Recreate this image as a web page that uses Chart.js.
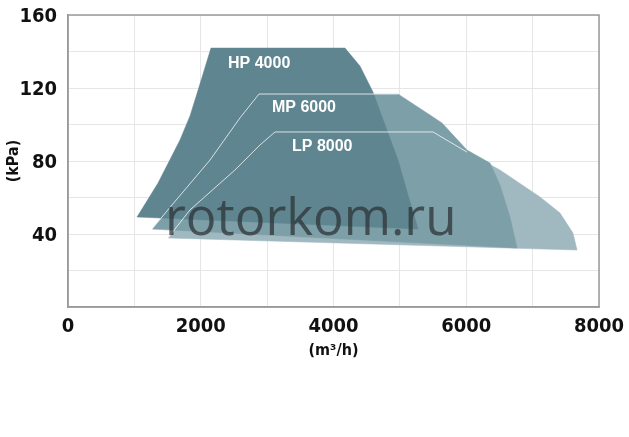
<!DOCTYPE html>
<html>
<head>
<meta charset="utf-8">
<script src="https://cdn.jsdelivr.net/npm/chart.js@4"></script>
<style>
  html, body { margin: 0; padding: 0; background: #ffffff; }
  #wrap { width: 629px; height: 437px; }
</style>
</head>
<body>
<div id="wrap"><canvas id="c" width="629" height="437"></canvas></div>
<script>
// Airflow (m3/h) and pressure (kPa) outlines of each blower range
const seriesNames = ["HP 4000", "MP 6000", "LP 8000"];

const hpX = [1040, 1356, 1687, 1838, 1974, 2154, 4173, 4399, 4595, 4776, 4972, 5122, 5213, 5273, 1040];
const hpY = [49.3, 67.9, 91.5, 104.7, 120.5, 141.9, 141.9, 132, 117.8, 99.7, 80.5, 61.4, 50.4, 42.7, 49.3];

const mpX = [1266, 1567, 2139, 2591, 2878, 4972, 5454, 5635, 6011, 6358, 6508, 6659, 6765, 1266];
const mpY = [42.7, 55.9, 80.5, 103.6, 116.7, 116.7, 105.2, 100.8, 86.0, 78.9, 66.8, 49.3, 32.3, 42.7];

const lpX = [1507, 1838, 2516, 2893, 3119, 5499, 6011, 6508, 7111, 7413, 7608, 7669, 1507];
const lpY = [37.8, 53.2, 75.1, 88.8, 95.9, 95.9, 84.9, 75.1, 60.3, 51.5, 40.5, 31.2, 37.8];

// label anchor points (left edge, vertical centre) in data units
const labelX = [2411, 3073, 3375];
const labelY = [133.6, 109.0, 87.7];

const xTickLabels = [0, 2000, 4000, 6000, 8000];
const yTickLabels = [40, 80, 120, 160];

const watermark = "rotorkom.ru";

function pts(xs, ys) { return xs.map((x, i) => ({ x: x, y: ys[i] })); }

const boxPlugin = {
  id: 'box',
  afterDatasetsDraw(chart) {
    const { ctx, chartArea: a, scales } = chart;
    ctx.save();
    // series labels
    ctx.fillStyle = '#ffffff';
    ctx.font = 'bold 16px "Liberation Sans", Arial, sans-serif';
    ctx.textAlign = 'left';
    ctx.textBaseline = 'middle';
    seriesNames.forEach((n, i) => {
      ctx.fillText(n, scales.x.getPixelForValue(labelX[i]), scales.y.getPixelForValue(labelY[i]));
    });
    // watermark
    ctx.fillStyle = 'rgba(45,50,54,0.74)';
    ctx.font = '51px "Open Sans", sans-serif';
    ctx.textBaseline = 'alphabetic';
    ctx.fillText(watermark, 165, 235);
    // frame
    ctx.strokeStyle = '#9a9a9a';
    ctx.lineWidth = 1.5;
    ctx.strokeRect(a.left, a.top, a.right - a.left, a.bottom - a.top);
    ctx.restore();
  }
};

const tickFont = { family: '"Liberation Sans Narrow", "DejaVu Sans Condensed", sans-serif', size: 20, weight: 'bold' };
const titleFont = { family: '"Liberation Sans Narrow", "DejaVu Sans Condensed", sans-serif', size: 16, weight: 'bold' };

new Chart(document.getElementById('c'), {
  type: 'scatter',
  data: {
    datasets: [
      { label: 'MP edge', data: pts(mpX.slice(0, 6), mpY.slice(0, 6)), showLine: true, fill: false,
        borderColor: 'rgba(255,255,255,0.75)', borderWidth: 1, pointRadius: 0, order: 1 },
      { label: 'LP edge', data: pts(lpX.slice(0, 7), lpY.slice(0, 7)), showLine: true, fill: false,
        borderColor: 'rgba(255,255,255,0.75)', borderWidth: 1, pointRadius: 0, order: 1 },
      { label: seriesNames[0], data: pts(hpX, hpY), showLine: true, fill: 'shape',
        backgroundColor: '#5f8690', borderColor: '#5f8690', borderWidth: 0.5, pointRadius: 0, order: 3 },
      { label: seriesNames[1], data: pts(mpX, mpY), showLine: true, fill: 'shape',
        backgroundColor: '#7c9fa8', borderColor: '#7c9fa8', borderWidth: 0.5, pointRadius: 0, order: 4 },
      { label: seriesNames[2], data: pts(lpX, lpY), showLine: true, fill: 'shape',
        backgroundColor: '#a0b8bf', borderColor: '#a0b8bf', borderWidth: 0.5, pointRadius: 0, order: 5 }
    ]
  },
  options: {
    responsive: false,
    animation: false,
    layout: { padding: { left: 0, right: 30, top: 15, bottom: 77 } },
    plugins: { legend: { display: false }, tooltip: { enabled: false } },
    scales: {
      x: {
        type: 'linear', min: 0, max: 8000,
        afterFit(s) { s.height = 53; s.paddingLeft = 0; s.paddingRight = 0; },
        grid: { color: '#e6e6e6', drawTicks: false },
        border: { color: '#9a9a9a', width: 1.5 },
        ticks: {
          stepSize: 1000, padding: 8, color: '#111', font: tickFont, maxRotation: 0, autoSkip: false,
          callback: v => xTickLabels.includes(v) ? String(v) : ''
        },
        title: { display: true, text: '(m³/h)', color: '#111', font: titleFont, padding: { top: 0, bottom: 0 } }
      },
      y: {
        type: 'linear', min: 0, max: 160,
        afterFit(s) { s.width = 68; s.paddingTop = 0; s.paddingBottom = 0; },
        grid: { color: '#e6e6e6', drawTicks: false },
        border: { color: '#9a9a9a', width: 1.5 },
        ticks: {
          stepSize: 20, padding: 11, color: '#111', font: tickFont, labelOffset: 2, autoSkip: false,
          callback: v => yTickLabels.includes(v) ? String(v) : ''
        },
        title: { display: true, text: '(kPa)', color: '#111', font: titleFont, padding: { top: 4, bottom: 0 } }
      }
    }
  },
  plugins: [boxPlugin]
});
</script>
</body>
</html>
